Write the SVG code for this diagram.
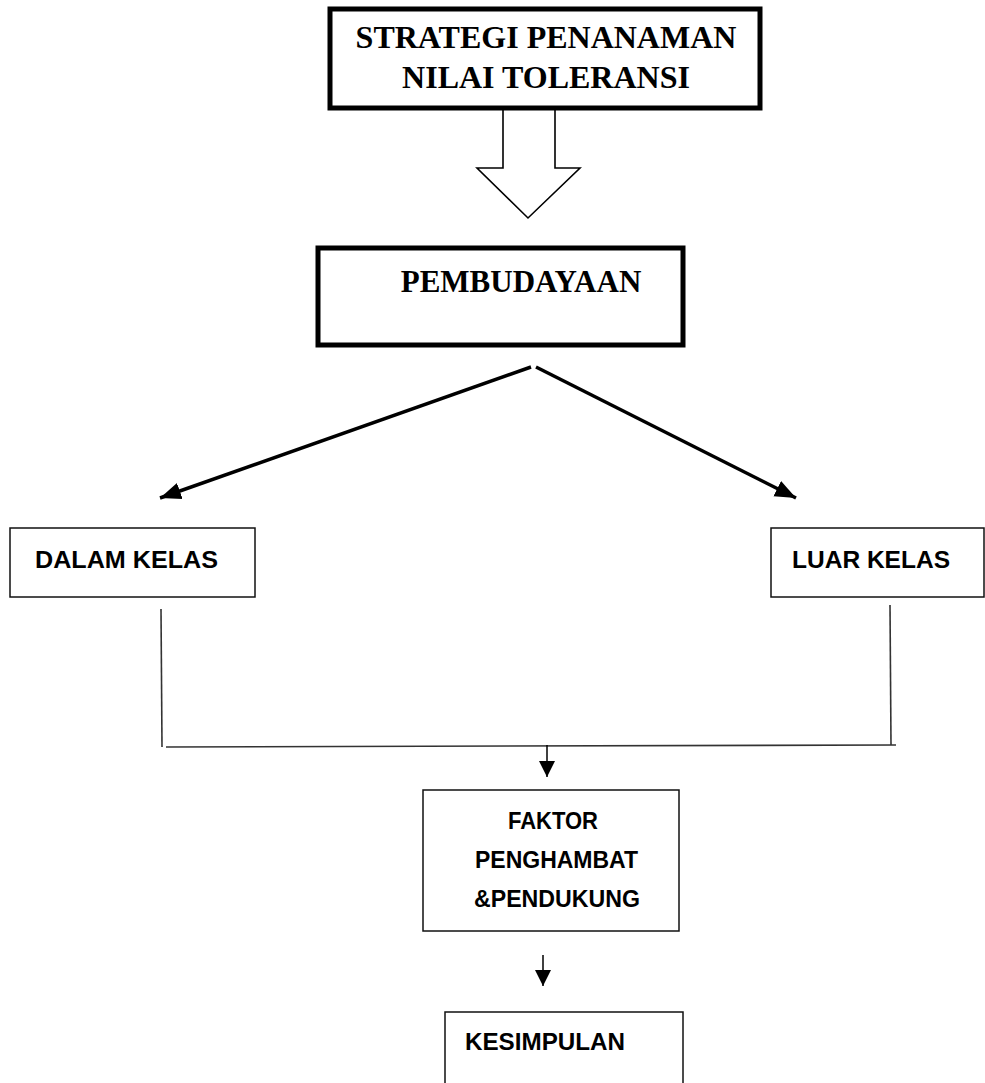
<svg xmlns="http://www.w3.org/2000/svg" width="985" height="1083" viewBox="0 0 985 1083">
<style>
.thick{fill:#fff;stroke:#000;stroke-width:5}
.thin{fill:#fff;stroke:#111;stroke-width:1.5}
.serif{font-family:"Liberation Serif","Times New Roman",serif;font-weight:bold;fill:#000}
.sans{font-family:"Liberation Sans",Arial,sans-serif;font-weight:bold;font-size:24px;fill:#000}
.ln{stroke:#333;stroke-width:1.6;fill:none}
.diag{stroke:#000;stroke-width:3.5;fill:none}
</style>
<defs>
<marker id="bigHead" markerUnits="userSpaceOnUse" markerWidth="24" markerHeight="20" refX="21" refY="10" orient="auto">
<path d="M0,1.5 L21,10 L0,18.5 Z" fill="#000"/>
</marker>
<marker id="smallHead" markerUnits="userSpaceOnUse" markerWidth="18" markerHeight="18" refX="16" refY="9" orient="auto">
<path d="M0,1 L16,9 L0,17 Z" fill="#000"/>
</marker>
</defs>
<g id="connectors">
<polygon points="503,108 503,168 477,168 528,218 580,168 555,168 555,108" fill="#fff" stroke="#000" stroke-width="1.6"/>
<line class="diag" x1="531" y1="367" x2="160" y2="498" marker-end="url(#bigHead)"/>
<line class="diag" x1="536" y1="367" x2="796" y2="498" marker-end="url(#bigHead)"/>
<line class="ln" x1="161" y1="609" x2="162" y2="747"/>
<line class="ln" x1="890" y1="605" x2="891" y2="745"/>
<line class="ln" x1="166" y1="747" x2="896" y2="745"/>
<line x1="547" y1="745" x2="547" y2="777" stroke="#000" stroke-width="1.5" marker-end="url(#smallHead)"/>
<line x1="543" y1="955" x2="543" y2="986" stroke="#000" stroke-width="1.5" marker-end="url(#smallHead)"/>
</g>
<g id="strategi">
<rect class="thick" x="330" y="9" width="430" height="99"/>
<text class="serif" font-size="32" x="546" y="48" text-anchor="middle">STRATEGI PENANAMAN</text>
<text class="serif" font-size="32" x="546" y="88" text-anchor="middle">NILAI TOLERANSI</text>
</g>
<g id="pembudayaan">
<rect class="thick" x="318" y="248" width="365" height="97"/>
<text class="serif" font-size="31" x="521" y="292" text-anchor="middle">PEMBUDAYAAN</text>
</g>
<g id="dalam-kelas">
<rect class="thin" x="10" y="528" width="245" height="69"/>
<text class="sans" x="35" y="568" textLength="183" lengthAdjust="spacingAndGlyphs">DALAM KELAS</text>
</g>
<g id="luar-kelas">
<rect class="thin" x="771" y="528" width="213" height="69"/>
<text class="sans" x="792" y="568" textLength="158" lengthAdjust="spacingAndGlyphs">LUAR KELAS</text>
</g>
<g id="faktor">
<rect class="thin" x="423" y="790" width="256" height="141"/>
<text class="sans" x="508" y="829" textLength="90" lengthAdjust="spacingAndGlyphs">FAKTOR</text>
<text class="sans" x="475" y="868" textLength="163" lengthAdjust="spacingAndGlyphs">PENGHAMBAT</text>
<text class="sans" x="474" y="907" textLength="166" lengthAdjust="spacingAndGlyphs">&amp;PENDUKUNG</text>
</g>
<g id="kesimpulan">
<rect class="thin" x="445" y="1012" width="238" height="80"/>
<text class="sans" x="465" y="1050" textLength="160" lengthAdjust="spacingAndGlyphs">KESIMPULAN</text>
</g>
</svg>
